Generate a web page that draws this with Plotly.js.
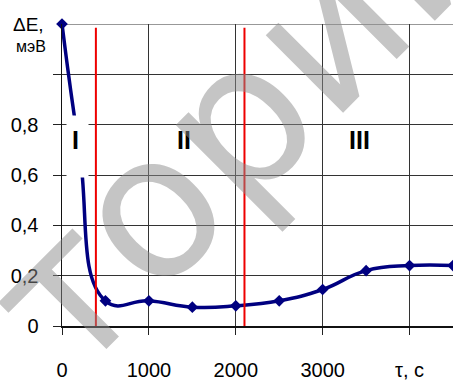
<!DOCTYPE html>
<html>
<head>
<meta charset="utf-8">
<script src="https://cdn.plot.ly/plotly-3.0.1.min.js"></script>
<style>html,body{margin:0;padding:0;background:#fff}#chart{width:453px;height:380px}</style>
</head>
<body>
<div id="chart"></div>
<script>
// Data (the point at 200 s sits under the "I" label box)
const tau = [0, 200, 500, 1000, 1500, 2000, 2500, 3000, 3500, 4000, 4500];
const deltaE = [1.2, 0.70, 0.10, 0.10, 0.075, 0.08, 0.10, 0.145, 0.22, 0.24, 0.24];
const stageBounds = [390, 2100];
const stageLabels = ['I', 'II', 'III'];
const stageLabelX = [150, 1400, 3420];
const xTickVals = [0, 1000, 2000, 3000, 4000];
const xTickText = ['0', '1000', '2000', '3000', 'τ, c'];
const yTickVals = [0, 0.2, 0.4, 0.6, 0.8, 1.0];
const yTickText = ['0', '0,2', '0,4', '0,6', '0,8', ''];
const watermarkText = 'торий';

const F = 'Liberation Sans, Arial, sans-serif';

const trace = {
  x: tau, y: deltaE, type: 'scatter', mode: 'lines+markers',
  line: {color: '#000080', width: 3.5, shape: 'spline', smoothing: 1.3},
  marker: {symbol: 'diamond', size: 9, color: '#000080'},
  cliponaxis: false, hoverinfo: 'skip'
};

const shapes = stageBounds.map(b => ({
  type: 'line', xref: 'x', yref: 'y', x0: b, x1: b, y0: 0, y1: 1.185,
  line: {color: '#ee0000', width: 2}, layer: 'above'
}));
shapes.push({type: 'line', xref: 'paper', yref: 'y', x0: 0, x1: 1, y0: 1.2, y1: 1.2,
  line: {color: '#333', width: 1}, layer: 'below'});

const annotations = [
  // white label box that hides part of the curve near stage I
  {xref: 'x', yref: 'y', x: 178, y: 0.712, text: ' ', showarrow: false,
   width: 21, height: 61, bgcolor: '#ffffff', borderpad: 0},
];
stageLabels.forEach((t, i) => annotations.push({
  xref: 'x', yref: 'y', x: stageLabelX[i], y: 0.74, text: '<b>' + t + '</b>', showarrow: false,
  font: {family: F, size: 25, color: '#000'}
}));
annotations.push(
  {xref: 'paper', yref: 'paper', x: -0.04, y: 1.0, xanchor: 'right', yanchor: 'middle',
   text: 'ΔE,', showarrow: false, font: {family: F, size: 19, color: '#000'}},
  {xref: 'paper', yref: 'paper', x: -0.035, y: 0.925, xanchor: 'right', yanchor: 'middle',
   text: 'мэВ', showarrow: false, font: {family: F, size: 16, color: '#000'}},
  // watermark
  {xref: 'paper', yref: 'paper', x: (244 - 62) / 391, y: (326 - 114) / 302, xanchor: 'center', yanchor: 'middle',
   text: watermarkText, showarrow: false, textangle: -45,
   font: {family: 'DejaVu Sans, sans-serif', size: 200, color: 'rgba(140,140,140,0.5)'}}
);

const layout = {
  width: 453, height: 380,
  margin: {l: 62, r: 0, t: 24, b: 54, pad: 0},
  paper_bgcolor: '#fff', plot_bgcolor: '#fff',
  showlegend: false,
  xaxis: {
    range: [0, 4500], tickmode: 'array', tickvals: xTickVals, ticktext: xTickText,
    ticks: 'outside', ticklen: 7, tickcolor: '#222', tickwidth: 1,
    showgrid: true, gridcolor: '#333', gridwidth: 1,
    showline: true, linecolor: '#111', linewidth: 1.5, zeroline: false,
    tickfont: {family: F, size: 20, color: '#000'}, ticklabelstandoff: 18
  },
  yaxis: {
    range: [0, 1.2], tickmode: 'array', tickvals: yTickVals, ticktext: yTickText,
    ticks: 'outside', ticklen: 8, tickcolor: '#222', tickwidth: 1,
    showgrid: true, gridcolor: '#333', gridwidth: 1,
    showline: true, linecolor: '#111', linewidth: 1.5, zeroline: false,
    tickfont: {family: F, size: 20, color: '#000'}, ticklabelstandoff: 10
  },
  shapes: shapes,
  annotations: annotations
};

Plotly.newPlot('chart', [trace], layout, {staticPlot: true, displayModeBar: false});
</script>
</body>
</html>
